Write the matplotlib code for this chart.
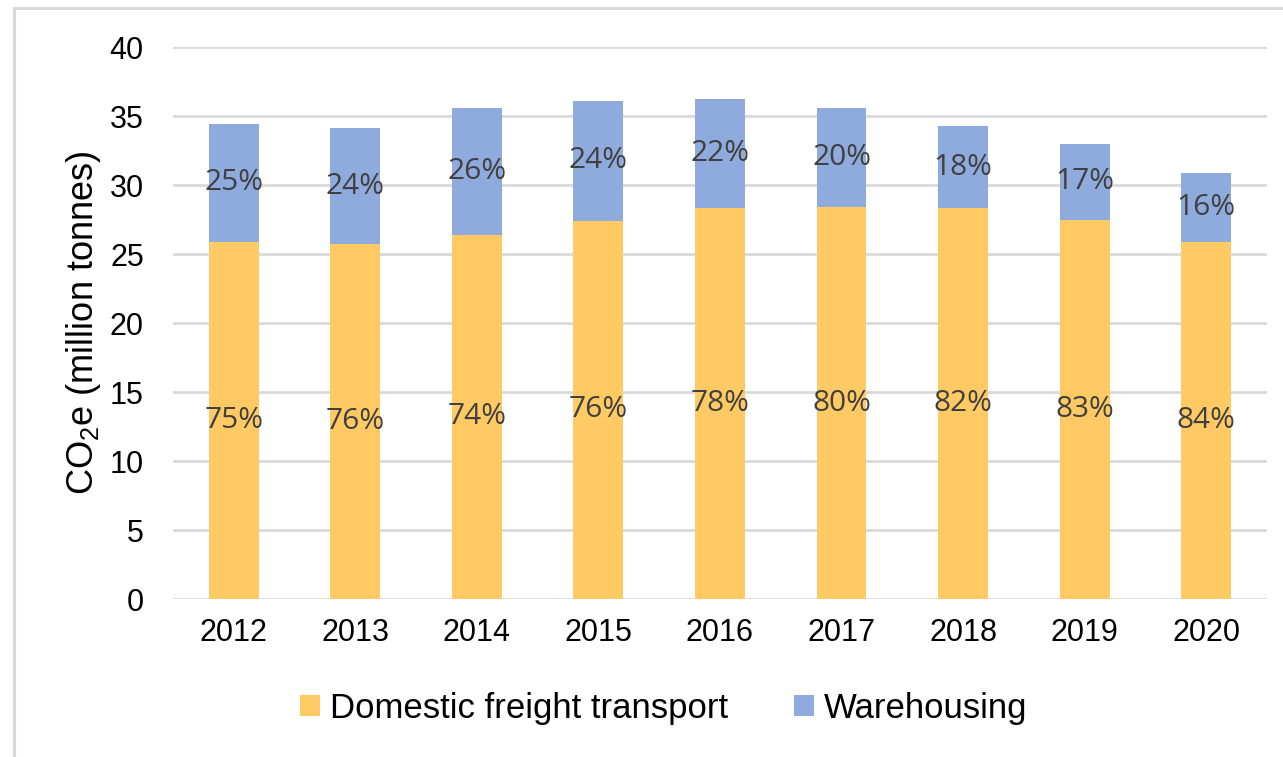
import numpy as np
import matplotlib
matplotlib.use('Agg')
import matplotlib.pyplot as plt
from matplotlib.lines import Line2D

plt.rcParams['font.family'] = ['Liberation Sans', 'DejaVu Sans']

years = ['2012', '2013', '2014', '2015', '2016', '2017', '2018', '2019', '2020']
freight = [25.9, 25.7, 26.4, 27.4, 28.3, 28.4, 28.3, 27.5, 25.9]
warehousing = [8.5, 8.4, 9.2, 8.7, 7.9, 7.2, 6.0, 5.5, 5.0]
freight_pct = ['75%', '76%', '74%', '76%', '78%', '80%', '82%', '83%', '84%']
warehousing_pct = ['25%', '24%', '26%', '24%', '22%', '20%', '18%', '17%', '16%']

yellow = '#FFCA63'
blue = '#8FAADC'

fig = plt.figure(figsize=(12.83, 7.57), dpi=100)
ax = fig.add_axes([0.1348, 0.2087, 0.9875 - 0.1348, 0.9379 - 0.2087])

x = np.arange(len(years))
w = 0.41
b1 = ax.bar(x, freight, w, color=yellow, label='Domestic freight transport', zorder=3)
b2 = ax.bar(x, warehousing, w, bottom=freight, color=blue, label='Warehousing', zorder=3)

ax.bar_label(b1, labels=freight_pct, label_type='center', color='#404040',
             fontsize=21.5, family=['Open Sans', 'DejaVu Sans'], zorder=4)
ax.bar_label(b2, labels=warehousing_pct, label_type='center', color='#404040',
             fontsize=21.5, family=['Open Sans', 'DejaVu Sans'], zorder=4)

ax.set_ylim(0, 40)
ax.set_xlim(-0.5, 8.5)
ax.set_yticks(np.arange(0, 41, 5))
ax.set_xticks(x)
ax.set_xticklabels(years)
ax.tick_params(axis='both', length=0, labelsize=22, colors='black')
ax.tick_params(axis='y', pad=21)
ax.tick_params(axis='x', pad=14)
ax.grid(axis='y', color='#D9D9D9', linewidth=2, zorder=0)
for s in ax.spines.values():
    s.set_visible(False)

ax.set_ylabel(r'CO$_{\mathregular{2}}$e (million tonnes)', fontsize=26)
ax.yaxis.set_label_coords(-0.064, 0.5)

fig.legend(handles=[b1, b2], loc='center', bbox_to_anchor=(0.5175, 0.064),
           ncol=2, frameon=False, fontsize=25, handlelength=0.56,
           handleheight=0.56, handletextpad=0.3, columnspacing=1.9)

# outer frame (left and top edges visible)
fig.add_artist(Line2D([13.5 / 1283, 13.5 / 1283], [0, 1 - 7.5 / 757],
                      transform=fig.transFigure, color='#D9D9D9', linewidth=2.2))
fig.add_artist(Line2D([13.5 / 1283, 1], [1 - 7.5 / 757, 1 - 7.5 / 757],
                      transform=fig.transFigure, color='#D9D9D9', linewidth=2.2))

fig.savefig('out.png', dpi=100)
